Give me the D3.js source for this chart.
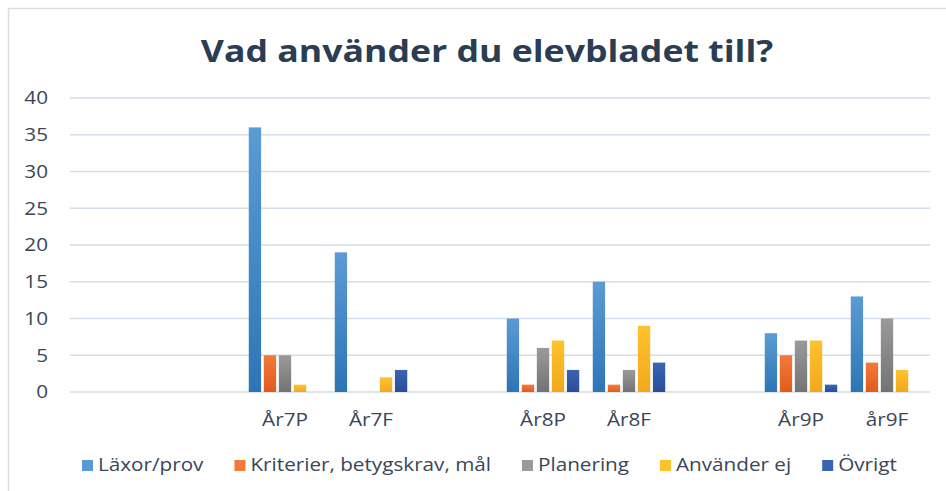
<!DOCTYPE html>
<html>
<head>
<meta charset="utf-8">
<script src="https://cdn.jsdelivr.net/npm/d3@7"></script>
<style>
  body { margin: 0; background: #fff; }
  svg { display: block; }
</style>
</head>
<body>
<div class="chart"></div>
<script>
// categories (blank slots are empty gaps on the axis)
const categories = ['', ' ', 'År7P', 'År7F', '  ', 'År8P', 'År8F', '   ', 'År9P', 'år9F']
const seriesNames = ['Läxor/prov', 'Kriterier, betygskrav, mål', 'Planering', 'Använder ej', 'Övrigt']
const seriesColors = [['#5b9bd5', '#2e75b6'], ['#f4793a', '#e05c1c'], ['#9a9a9a', '#737373'], ['#ffc22e', '#f0a91b'], ['#3b64b4', '#2a4d97']]
const laxor =     [null, null, 36, 19, null, 10, 15, null, 8, 13]
const kriterier = [null, null, 5, 0, null, 1, 1, null, 5, 4]
const planering = [null, null, 5, 0, null, 6, 3, null, 7, 10]
const anvanderEj = [null, null, 1, 2, null, 7, 9, null, 7, 3]
const ovrigt =    [null, null, 0, 3, null, 3, 4, null, 1, 0]
const yTicks = [0, 5, 10, 15, 20, 25, 30, 35, 40]

const series = [laxor, kriterier, planering, anvanderEj, ovrigt]

const W = 946, H = 491
const SX = 1.15   // text in the picture is a bit wider than Open Sans
const svg = d3.select('.chart').append('svg')
  .attr('width', W).attr('height', H)
  .style('font-family', '"Open Sans", "Noto Sans", sans-serif')

let defs = svg.append('defs')
seriesColors.forEach((c, i) => {
  let g = defs.append('linearGradient').attr('id', 'g' + i)
    .attr('x1', 0).attr('y1', 0).attr('x2', 0).attr('y2', 1)
  g.append('stop').attr('offset', '0%').attr('stop-color', c[0])
  g.append('stop').attr('offset', '100%').attr('stop-color', c[1])
})

// frame
svg.append('rect')
  .attr('x', 8.5).attr('y', 8.5).attr('width', W).attr('height', H)
  .attr('fill', 'none').attr('stroke', '#d9dfe6').attr('stroke-width', 1.5)

svg.append('g').attr('transform', `translate(487,62) scale(${SX},1)`)
  .append('text')
  .attr('text-anchor', 'middle')
  .style('font-size', '31px').style('font-weight', 'bold')
  .attr('fill', '#2b3d52')
  .text('Vad använder du elevbladet till?')

const x = d3.scaleBand().domain(categories).range([70, 930])
const xs = d3.scaleBand().domain(d3.range(seriesNames.length))
  .range([0, x.bandwidth()]).paddingInner(0.18).paddingOuter(0.45)
const y = d3.scaleLinear().domain([0, 40]).range([392, 98])

// grid
svg.append('g').selectAll('line').data(yTicks).join('line')
  .attr('x1', 70).attr('x2', 930)
  .attr('y1', d => y(d)).attr('y2', d => y(d))
  .attr('stroke', '#d5dde7').attr('stroke-width', 1.5)

// y axis labels
const yAxis = d3.axisLeft(y).tickValues(yTicks).tickSize(0).tickPadding(0)
const ya = svg.append('g').call(yAxis)
  .attr('transform', `translate(48,0) scale(${SX},1)`)
ya.select('.domain').remove()
ya.selectAll('text').style('font-size', '18px').attr('fill', '#3a4657')
  .style('font-family', '"Open Sans", sans-serif')

// bars
series.forEach((vals, si) => {
  svg.append('g').selectAll('rect')
    .data(categories.map((c, i) => ({ c: c, v: vals[i] })).filter(d => d.v))
    .join('rect')
    .attr('x', d => x(d.c) + xs(si))
    .attr('width', xs.bandwidth())
    .attr('y', d => y(d.v))
    .attr('height', d => y(0) - y(d.v))
    .attr('fill', `url(#g${si})`)
})

// x labels
const xAxis = d3.axisBottom(x).tickSize(0).tickPadding(0)
const xa = svg.append('g').attr('transform', 'translate(0,413)').call(xAxis)
xa.select('.domain').remove()
xa.selectAll('.tick')
  .attr('transform', d => `translate(${x(d) + x.bandwidth() / 2},0) scale(${SX},1)`)
xa.selectAll('text').style('font-size', '18px').attr('fill', '#3a4657')
  .style('font-family', '"Open Sans", sans-serif')

// legend
let lx = 82
const legend = svg.append('g')
seriesNames.forEach((n, i) => {
  legend.append('rect').attr('x', lx).attr('y', 460).attr('width', 11).attr('height', 11)
    .attr('fill', seriesColors[i][0])
  let t = legend.append('g').attr('transform', `translate(${lx + 16},471) scale(${SX},1)`)
    .append('text')
    .style('font-size', '18px').attr('fill', '#3a4657').text(n)
  lx += 16 + t.node().getComputedTextLength() * SX + 31
})
</script>
</body>
</html>
